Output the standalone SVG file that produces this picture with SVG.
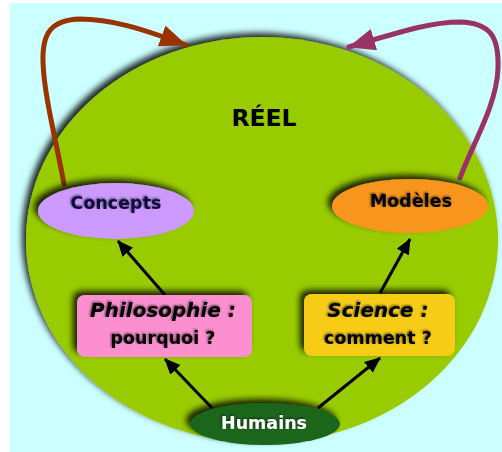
<svg xmlns="http://www.w3.org/2000/svg" width="502" height="452" viewBox="0 0 502 452">
  <defs>
    <!-- soft dark shadow thrown up and to the left -->
    <filter id="shade" x="-20%" y="-20%" width="140%" height="140%">
      <feGaussianBlur in="SourceAlpha" stdDeviation="3"/>
      <feOffset dx="-4" dy="-4" result="blur"/>
      <feFlood flood-color="#000" flood-opacity="0.85"/>
      <feComposite in2="blur" operator="in"/>
      <feMerge><feMergeNode/><feMergeNode in="SourceGraphic"/></feMerge>
    </filter>
    <filter id="textShade" x="-10%" y="-30%" width="120%" height="160%">
      <feGaussianBlur in="SourceAlpha" stdDeviation="0.8"/>
      <feOffset dx="-1" dy="-1" result="blur"/>
      <feFlood flood-color="#000" flood-opacity="0.6"/>
      <feComposite in2="blur" operator="in"/>
      <feMerge><feMergeNode/><feMergeNode in="SourceGraphic"/></feMerge>
    </filter>
    <marker id="headBlack" markerUnits="userSpaceOnUse" markerWidth="18" markerHeight="16" refX="15" refY="7" orient="auto">
      <path d="M0,0 L16,7 L0,14 z" fill="#000"/>
    </marker>
    <marker id="headBrown" markerUnits="userSpaceOnUse" markerWidth="30" markerHeight="24" refX="26" refY="11" orient="auto">
      <path d="M0,0 L27,11 L0,22 z" fill="#993300"/>
    </marker>
    <marker id="headPlum" markerUnits="userSpaceOnUse" markerWidth="30" markerHeight="24" refX="26" refY="11" orient="auto">
      <path d="M0,0 L27,11 L0,22 z" fill="#993366"/>
    </marker>
  </defs>
  <style>
    text { font-family: "DejaVu Sans", Verdana, sans-serif; font-weight: bold; text-anchor: middle; }
    .lbl { font-size: 17.5px; fill: #000; filter: url(#textShade); }
    .big { font-size: 20px; font-style: italic; fill: #000; filter: url(#textShade); }
    .title { font-size: 23.5px; fill: #000; }
    .link { fill: none; stroke: #000; stroke-width: 3; marker-end: url(#headBlack); }
    .loop { fill: none; stroke-width: 5; stroke-linecap: round; }
  </style>

  <rect x="0" y="0" width="502" height="452" fill="#fff"/>
  <rect x="10" y="3" width="492" height="449" fill="#ccffff"/>

  <!-- the real: large green field -->
  <g id="reel">
    <ellipse cx="262" cy="240" rx="236" ry="203" fill="#99cc00" filter="url(#shade)"/>
    <text class="title" x="264" y="126">RÉEL</text>
  </g>

  <g id="connectors">
    <path class="loop" stroke="#993300" marker-end="url(#headBrown)" d="M64,184 C56,140 44,95 43,62 C42,32 52,20 80,19 C110,19 140,28 186,45"/>
    <path class="loop" stroke="#993366" marker-end="url(#headPlum)" d="M460,178 C472,145 497,105 498,68 C499,36 490,23 460,22 C430,22 400,32 349,47"/>
    <line class="link" x1="165" y1="295" x2="118" y2="241"/>
    <line class="link" x1="380" y1="293" x2="410" y2="239"/>
    <line class="link" x1="212" y1="408" x2="165" y2="359"/>
    <line class="link" x1="318" y1="408" x2="380" y2="358"/>
  </g>

  <g id="concepts">
    <ellipse cx="116" cy="211" rx="78" ry="28" fill="#cc99ff" filter="url(#shade)"/>
    <text class="lbl" x="116" y="209" style="fill:#10103a">Concepts</text>
  </g>

  <g id="modeles">
    <ellipse cx="410" cy="206" rx="78" ry="27" fill="#f7951e" filter="url(#shade)"/>
    <text class="lbl" x="411" y="207">Modèles</text>
  </g>

  <g id="philosophie">
    <rect x="77" y="295" width="175" height="62" rx="8" fill="#fb8fd0" filter="url(#shade)"/>
    <text class="big" x="163" y="317">Philosophie :</text>
    <text class="lbl" x="163" y="344">pourquoi ?</text>
  </g>

  <g id="science">
    <rect x="304" y="294" width="151" height="62" rx="8" fill="#f6cc19" filter="url(#shade)"/>
    <text class="big" x="378" y="317">Science :</text>
    <text class="lbl" x="378" y="344">comment ?</text>
  </g>

  <g id="humains">
    <ellipse cx="265" cy="424" rx="75" ry="21" fill="#1a661a" filter="url(#shade)"/>
    <text class="lbl" x="264" y="429" style="fill:#fff">Humains</text>
  </g>
</svg>
